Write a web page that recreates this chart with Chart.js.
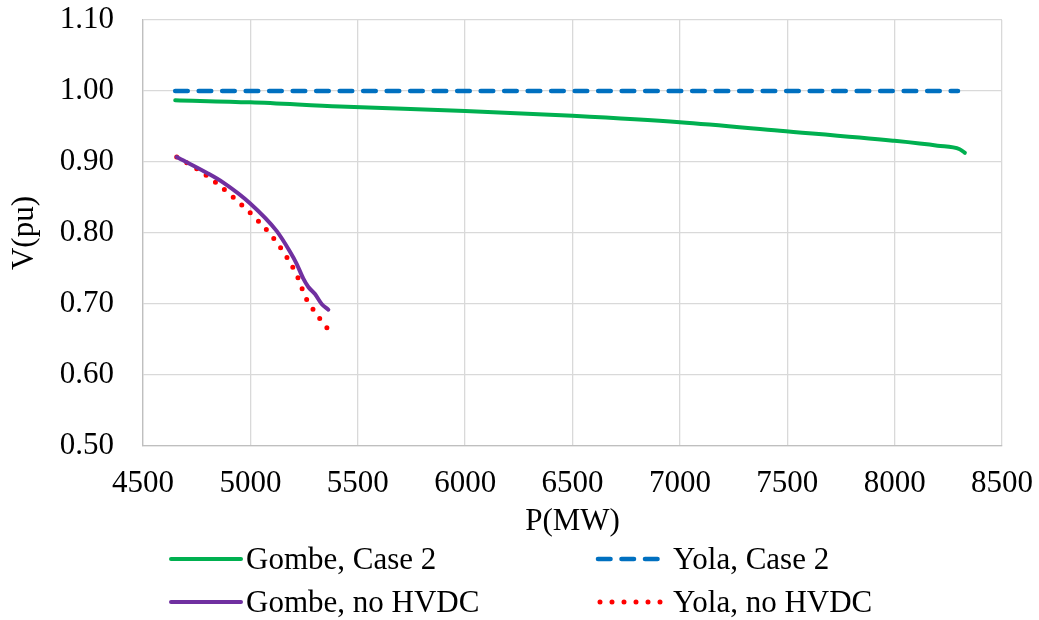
<!DOCTYPE html>
<html>
<head>
<meta charset="utf-8">
<script src="https://cdn.jsdelivr.net/npm/chart.js@4.4.1/dist/chart.umd.min.js"></script>
<style>
  html, body { margin: 0; padding: 0; background: #ffffff; }
  #wrap { width: 1039px; height: 620px; position: relative; }
</style>
</head>
<body>
<div id="wrap"><canvas id="c" width="1039" height="620"></canvas></div>
<script>
// ---- data ----
const seriesNames = ["Gombe, Case 2", "Yola, Case 2", "Gombe, no HVDC", "Yola, no HVDC"];

const gombeCase2P = [4650, 5000, 5417, 6000, 6500, 7000, 7466, 7992, 8200, 8303, 8327];
const gombeCase2V = [0.987, 0.984, 0.978, 0.972, 0.965, 0.956, 0.944, 0.930, 0.923, 0.918, 0.913];

const yolaCase2P = [4650, 8295];
const yolaCase2V = [1.000, 1.000];

const gombeNoHvdcP = [4657, 4796, 4874, 4998, 5122, 5184, 5215, 5246, 5270, 5301, 5332, 5363];
const gombeNoHvdcV = [0.907, 0.885, 0.871, 0.842, 0.803, 0.774, 0.757, 0.736, 0.724, 0.714, 0.700, 0.692];

const yolaNoHvdcP = [4657, 4753, 4843, 4933, 5017, 5094, 5161, 5217, 5259, 5291, 5324, 5358];
const yolaNoHvdcV = [0.907, 0.890, 0.870, 0.847, 0.823, 0.798, 0.770, 0.740, 0.708, 0.693, 0.679, 0.666];

const xTickLabels = ["4500", "5000", "5500", "6000", "6500", "7000", "7500", "8000", "8500"];
const yTickLabels = ["0.50", "0.60", "0.70", "0.80", "0.90", "1.00", "1.10"];

const xTitle = "P(MW)";
const yTitle = "V(pu)";

// ---- helpers ----
function pts(xs, ys) { return xs.map((x, i) => ({ x: x, y: ys[i] })); }

const FONT = "'Liberation Serif', 'Times New Roman', serif";
const FS = 31;

const styles = [
  { color: "#00B050", width: 4, dash: [], cap: "round" },
  { color: "#0070C0", width: 4.6, dash: [12.5, 11], cap: "round" },
  { color: "#7030A0", width: 4, dash: [], cap: "round" },
  { color: "#FF0000", width: 5, dash: [0, 11.59], cap: "round" }
];

const seriesData = [
  pts(gombeCase2P, gombeCase2V),
  pts(yolaCase2P, yolaCase2V),
  pts(gombeNoHvdcP, gombeNoHvdcV),
  pts(yolaNoHvdcP, yolaNoHvdcV)
];

const datasets = seriesNames.map((name, i) => ({
  label: name,
  data: seriesData[i],
  borderColor: styles[i].color,
  backgroundColor: styles[i].color,
  borderWidth: styles[i].width,
  borderDash: styles[i].dash,
  borderCapStyle: styles[i].cap,
  borderJoinStyle: "round",
  pointRadius: 0,
  pointHoverRadius: 0,
  fill: false,
  cubicInterpolationMode: "monotone",
  showLine: true
}));

// custom two-column legend drawn below the plot
const legendPlugin = {
  id: "twoColLegend",
  afterDraw(chart) {
    const ctx = chart.ctx;
    const pos = [
      { x: 171, y: 559 },
      { x: 598, y: 559 },
      { x: 171, y: 602 },
      { x: 598, y: 602 }
    ];
    const lineLen = 70;
    ctx.save();
    chart.data.datasets.forEach((ds, i) => {
      const p = pos[i];
      ctx.beginPath();
      ctx.strokeStyle = ds.borderColor;
      ctx.lineWidth = ds.borderWidth;
      ctx.lineCap = ds.borderCapStyle;
      ctx.setLineDash(i === 3 ? [0, 12] : (ds.borderDash || []));
      ctx.moveTo(p.x + (i === 3 ? 2 : 0), p.y);
      ctx.lineTo(p.x + lineLen, p.y);
      ctx.stroke();
      ctx.setLineDash([]);
      ctx.fillStyle = "#000000";
      ctx.font = FS + "px " + FONT;
      ctx.textAlign = "left";
      ctx.textBaseline = "alphabetic";
      ctx.fillText(ds.label, p.x + lineLen + 5, p.y + 9.5);
    });
    ctx.restore();
  }
};

new Chart(document.getElementById("c"), {
  type: "scatter",
  data: { datasets: datasets },
  options: {
    responsive: false,
    animation: false,
    devicePixelRatio: 1,
    layout: { padding: { top: 20, left: 0, right: 37, bottom: 80 } },
    plugins: {
      legend: { display: false },
      tooltip: { enabled: false }
    },
    scales: {
      x: {
        type: "linear",
        min: 4500,
        max: 8500,
        afterBuildTicks(scale) {
          scale.ticks = xTickLabels.map(t => ({ value: Number(t) }));
        },
        afterFit(scale) {
          scale.height = 94;
          scale.paddingLeft = 0;
          scale.paddingRight = 0;
        },
        ticks: {
          autoSkip: false,
          maxRotation: 0,
          padding: 19,
          color: "#000000",
          font: { family: FONT, size: FS },
          callback: (v) => xTickLabels.find(t => Number(t) === v) || ""
        },
        grid: { color: "#D9D9D9", lineWidth: 1.3, drawTicks: false },
        border: { display: true, color: "#BFBFBF", width: 1.3 },
        title: {
          display: true,
          text: xTitle,
          color: "#000000",
          font: { family: FONT, size: FS },
          padding: { top: 0, bottom: 0 }
        }
      },
      y: {
        type: "linear",
        min: 0.5,
        max: 1.1,
        afterBuildTicks(scale) {
          scale.ticks = yTickLabels.map(t => ({ value: Number(t) }));
        },
        afterFit(scale) {
          scale.width = 143;
          scale.paddingTop = 0;
          scale.paddingBottom = 0;
        },
        ticks: {
          autoSkip: false,
          padding: 29,
          color: "#000000",
          font: { family: FONT, size: FS },
          callback: (v) => yTickLabels.find(t => Math.abs(Number(t) - v) < 1e-6) || ""
        },
        grid: { color: "#D9D9D9", lineWidth: 1.3, drawTicks: false },
        border: { display: true, color: "#BFBFBF", width: 1.3 },
        title: {
          display: true,
          text: yTitle,
          color: "#000000",
          font: { family: FONT, size: FS },
          padding: { top: 6, bottom: 0 }
        }
      }
    }
  },
  plugins: [legendPlugin]
});
</script>
</body>
</html>
